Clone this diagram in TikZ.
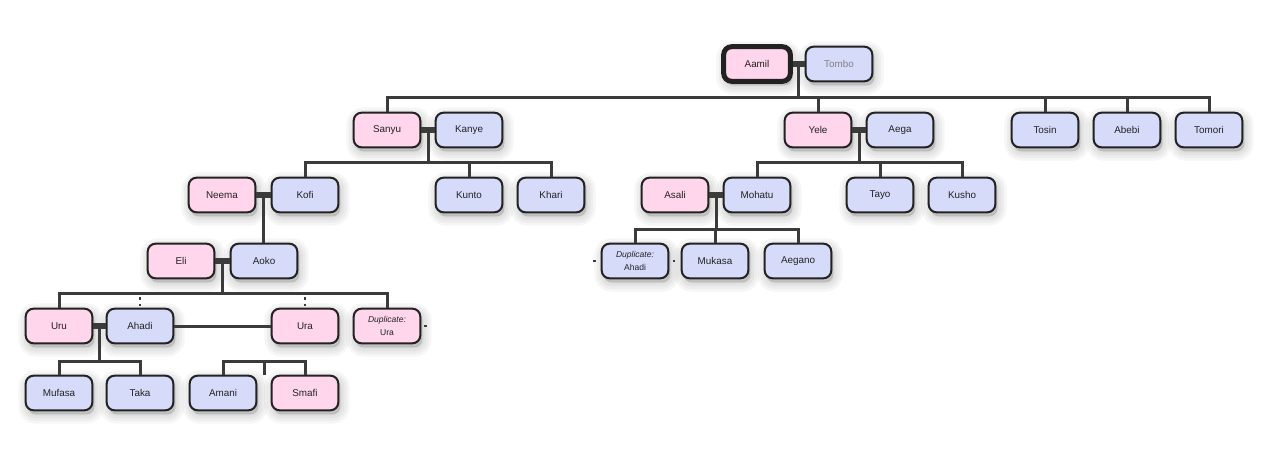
\documentclass[tikz,border=0pt]{standalone}
\usepackage{fontspec}
\setmainfont{Liberation Sans}
\usetikzlibrary{calc}
\definecolor{PersonPink}{HTML}{FFD6EC}
\definecolor{PersonBlue}{HTML}{D7DBFA}
\definecolor{LineGray}{HTML}{3B3B3B}
\definecolor{BorderGray}{HTML}{222222}

\begin{document}
\begin{tikzpicture}[x=0.75pt, y=-0.75pt,
    halo/.style={preaction={draw=black, fill=black, opacity=0.035,
      line width=#1, transform canvas={shift={(1.5pt,-3pt)}}}},
    person/.style={draw=BorderGray, line width=1.5pt, rounded corners=6pt,
      minimum width=50pt, minimum height=26pt, inner sep=1pt,
      font=\fontsize{7.4}{9}\selectfont, text=BorderGray,
      halo=14pt, halo=10pt, halo=6pt, halo=2pt},
    female/.style={person, fill=PersonPink},
    male/.style={person, fill=PersonBlue},
    dupe/.style={align=center, font=\fontsize{6.4}{9.5}\selectfont},
    link/.style={draw=LineGray, line width=2.25pt},
    couple/.style={draw=LineGray, line width=4.5pt}]
    \fill[white] (0,0) rectangle (1280,450);
    \useasboundingbox (0,0) rectangle (1280,450);
    % Generation 0
    \node[female, line width=3.75pt] (aamil) at (757,64) {Aamil};
    \node[male, text=gray] (tombo) at (839,64) {Tombo};
    % Generation 1
    \node[female] (sanyu) at (387,130) {Sanyu};
    \node[male] (kanye) at (469,130) {Kanye};
    \node[female] (yele) at (818,130) {Yele};
    \node[male] (aega) at (900,130) {Aega};
    \node[male] (tosin) at (1045,130) {Tosin};
    \node[male] (abebi) at (1127,130) {Abebi};
    \node[male] (tomori) at (1209,130) {Tomori};
    % Generation 2
    \node[female] (neema) at (222,195) {Neema};
    \node[male] (kofi) at (305,195) {Kofi};
    \node[male] (kunto) at (469,195) {Kunto};
    \node[male] (khari) at (551,195) {Khari};
    \node[female] (asali) at (675,195) {Asali};
    \node[male] (mohatu) at (757,195) {Mohatu};
    \node[male] (tayo) at (880,195) {Tayo};
    \node[male] (kusho) at (962,195) {Kusho};
    % Generation 3
    \node[female] (eli) at (181,261) {Eli};
    \node[male] (aoko) at (264,261) {Aoko};
    \node[male, dupe] (dupahadi) at (635,261) {\textit{Duplicate:}\\Ahadi};
    \node[male] (mukasa) at (715,261) {Mukasa};
    \node[male] (aegano) at (798,261) {Aegano};
    % Generation 4
    \node[female] (uru) at (59,326) {Uru};
    \node[male] (ahadi) at (140,326) {Ahadi};
    \node[female] (ura) at (305,326) {Ura};
    \node[female, dupe] (dupura) at (387,326) {\textit{Duplicate:}\\Ura};
    % Generation 5
    \node[male] (mufasa) at (59,393) {Mufasa};
    \node[male] (taka) at (140,393) {Taka};
    \node[male] (amani) at (223,393) {Amani};
    \node[female] (smafi) at (305,393) {Smafi};

    % Aamil + Tombo
    \draw[couple] (aamil.east) -- (tombo.west);
    \coordinate (at) at ($(aamil.east)!0.5!(tombo.west)$);
    \coordinate (atbus) at (at |- 0,97);
    \draw[link] (at) -- (atbus);
    \draw[link] (sanyu.north) |- (atbus) -| (tomori.north);
    \foreach \kid in {yele, tosin, abebi}
      \draw[link] (\kid.north) -- (\kid.north |- atbus);
    % Sanyu + Kanye
    \draw[couple] (sanyu.east) -- (kanye.west);
    \coordinate (sk) at ($(sanyu.east)!0.5!(kanye.west)$);
    \coordinate (skbus) at (sk |- 0,162);
    \draw[link] (sk) -- (skbus);
    \draw[link] (kofi.north) |- (skbus) -| (khari.north);
    \draw[link] (kunto.north) -- (kunto.north |- skbus);
    % Yele + Aega
    \draw[couple] (yele.east) -- (aega.west);
    \coordinate (ya) at ($(yele.east)!0.5!(aega.west)$);
    \coordinate (yabus) at (ya |- 0,162);
    \draw[link] (ya) -- (yabus);
    \draw[link] (mohatu.north) |- (yabus) -| (kusho.north);
    \draw[link] (tayo.north) -- (tayo.north |- yabus);
    % Neema + Kofi
    \draw[couple] (neema.east) -- (kofi.west);
    \coordinate (nk) at ($(neema.east)!0.5!(kofi.west)$);
    \draw[link] (nk) -- (nk |- aoko.north);
    % Asali + Mohatu
    \draw[couple] (asali.east) -- (mohatu.west);
    \coordinate (am) at ($(asali.east)!0.5!(mohatu.west)$);
    \coordinate (ambus) at (am |- 0,229);
    \draw[link] (am) -- (ambus);
    \draw[link] (dupahadi.north) |- (ambus) -| (aegano.north);
    \draw[link] (mukasa.north) -- (mukasa.north |- ambus);
    % Eli + Aoko
    \draw[couple] (eli.east) -- (aoko.west);
    \coordinate (ea) at ($(eli.east)!0.5!(aoko.west)$);
    \coordinate (eabus) at (ea |- 0,293);
    \draw[link] (ea) -- (eabus);
    \draw[link] (uru.north) |- (eabus) -| (dupura.north);
    % Uru + Ahadi
    \draw[couple] (uru.east) -- (ahadi.west);
    \coordinate (ua) at ($(uru.east)!0.5!(ahadi.west)$);
    \coordinate (uabus) at (ua |- 0,361);
    \draw[link] (ua) -- (uabus);
    \draw[link] (mufasa.north) |- (uabus) -| (taka.north);
    % Ahadi + Ura
    \draw[link] (ahadi.east) -- (ura.west);
    \coordinate (ar) at ($(amani.north)!0.5!(smafi.north)$ |- ura.west);
    \coordinate (arbus) at (ar |- 0,361);
    \draw[link] (ar) -- (arbus);
    \draw[link] (amani.north) |- (arbus) -| (smafi.north);
    % Dots
    \foreach \who in {ahadi, ura} {
      \fill[LineGray] ($(\who.north)+(-1.3,-10.5)$) rectangle ++(2.6,2.6);
      \fill[LineGray] ($(\who.north)+(-1.3,-4)$) rectangle ++(2.6,2.6);
    }
    \fill[LineGray] ($(dupura.east)+(3,-1.3)$) rectangle ++(2.6,2.6);
    \fill[LineGray] ($(dupahadi.west)+(-7.5,-1.3)$) rectangle ++(2.6,2.6);
    \fill[LineGray] ($(dupahadi.east)+(3.5,-1.3)$) rectangle ++(2.6,2.6);
  \end{tikzpicture}
\end{document}
